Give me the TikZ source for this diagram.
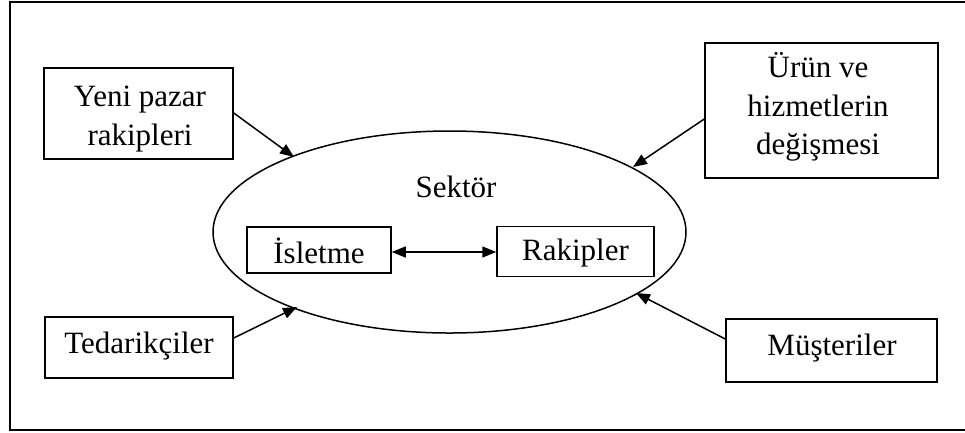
\documentclass[tikz,border=0pt]{standalone}
\usepackage{fontspec}
\setmainfont{Liberation Serif}
\usetikzlibrary{arrows.meta,shapes.geometric}
\begin{document}
\begin{tikzpicture}[x=1pt,y=-1pt,
  every node/.style={font=\fontsize{31}{38.5}\selectfont, inner sep=0pt},
  frame/.style={draw, line width=1.5pt},
  label/.style={align=center},
  tip/.tip={Triangle[length=14pt,width=11pt]},
  link/.style={line width=1.5pt, -tip},
  both/.style={line width=1.5pt, tip-tip}]
  \useasboundingbox (0,0) rectangle (965,432);
  \begin{scope}
    \clip (0,0) rectangle (965,432);
    \draw[line width=1.7pt] (10,2) rectangle (975,430);
  \end{scope}

  % industry ellipse with its two inner players
  \node[frame, ellipse, minimum width=473pt, minimum height=202pt] (sektor) at (449.5,232) {};
  \node[anchor=base] (sektorlbl) at (456,197) {Sektör};
  \node[frame, minimum width=144pt, minimum height=46pt] (isletme) at (319,250) {};
  \node[label] (isletmelbl) at (319,250.5) {İsletme};
  \node[frame, minimum width=157pt, minimum height=50pt] (rakipler) at (575.5,251.5) {};
  \node[label] (rakiplerlbl) at (575.5,253.5) {Rakipler};
  \draw[both] (isletme.east |- 0,252) -- (rakipler.west |- 0,252);

  % outside forces
  \node[frame, minimum width=189pt, minimum height=91pt] (yeni) at (138.5,113.5) {};
  \node[label] (yenilbl) at (140,119) {Yeni pazar\\rakipleri};
  \node[frame, minimum width=233pt, minimum height=135pt] (urun) at (821.5,110.5) {};
  \node[label] (urunlbl) at (818,107) {Ürün ve\\hizmetlerin\\değişmesi};
  \node[frame, minimum width=188pt, minimum height=61pt] (tedarik) at (139,347.5) {};
  \node[label] (tedariklbl) at (139,346) {Tedarikçiler};
  \node[frame, minimum width=211pt, minimum height=63pt] (musteri) at (831.5,350.5) {};
  \node[label] (musterilbl) at (832,348.5) {Müşteriler};

  \coordinate (tYeni) at (294,157);
  \coordinate (tUrun) at (633,167);
  \coordinate (tTed) at (297,307);
  \coordinate (tMus) at (636,293);
  \draw[link] (yeni.east |- 0,113) -- (tYeni);
  \draw[link] (urun.west |- 0,119) -- (tUrun);
  \draw[link] (tedarik.east |- 0,338) -- (tTed);
  \draw[link] (musteri.west |- 0,339) -- (tMus);
\end{tikzpicture}
\end{document}
